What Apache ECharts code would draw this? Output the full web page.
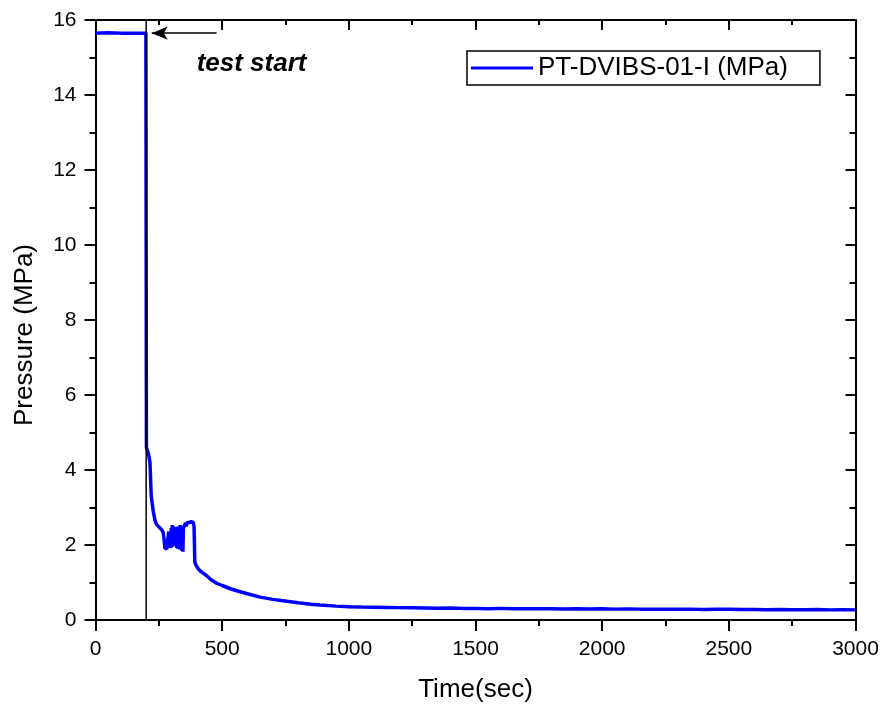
<!DOCTYPE html>
<html>
<head>
<meta charset="utf-8">
<script src="https://cdn.jsdelivr.net/npm/echarts@6/dist/echarts.min.js"></script>
<style>html,body{margin:0;padding:0;background:#fff;}#c{width:882px;height:708px;}</style>
</head>
<body>
<div id="c"></div>
<script>
// ---- data ----
const seriesName = 'PT-DVIBS-01-I (MPa)';
const timeSec = [
  0, 50, 100, 150, 199, 200, 201, 203, 206, 210, 215, 220, 228, 235, 241, 248, 255, 261, 266, 270,
  274, 278, 282, 285, 287, 289, 291, 293, 295, 297, 299, 301, 303, 305, 307, 309, 311, 313, 315, 317,
  319, 321, 323, 325, 327, 329, 331, 333, 335, 337, 339, 341, 343, 345, 347, 349, 352, 355, 358, 362,
  366, 370, 374, 378, 382, 386, 389, 392, 396, 400, 406, 415, 425, 439, 455, 478,
  500, 530, 557, 600, 650, 700, 755, 800, 850, 886, 950,
  1000, 1050, 1100, 1150, 1200, 1250, 1300, 1350, 1400, 1450, 1500, 1550, 1600, 1650, 1700, 1750,
  1800, 1850, 1900, 1950, 2000, 2050, 2100, 2150, 2200, 2250, 2300, 2350, 2400, 2450, 2500, 2550,
  2600, 2650, 2700, 2750, 2800, 2850, 2900, 2950, 3000
];
const pressureMPa = [
  15.65, 15.66, 15.65, 15.65, 15.65, 10.0, 4.6, 4.55, 4.5, 4.4, 4.2, 3.3, 2.9, 2.65, 2.55, 2.5, 2.45, 2.4, 2.36, 2.2,
  1.92, 1.88, 1.9, 1.86, 1.9, 2.36, 1.95, 2.3, 2.1, 1.92, 2.45, 2.0, 2.53, 1.95, 2.5, 2.0, 2.45, 1.98, 2.42, 2.05,
  2.48, 1.92, 2.35, 1.9, 2.5, 1.95, 2.4, 1.88, 2.53, 2.05, 2.45, 1.85, 2.5, 1.82, 2.45, 2.5, 2.45, 2.58, 2.5, 2.6,
  2.55, 2.6, 2.55, 2.62, 2.58, 2.6, 2.5, 1.55, 1.47, 1.42, 1.36, 1.3, 1.25, 1.18, 1.08, 0.98,
  0.92, 0.84, 0.78, 0.70, 0.61, 0.55, 0.50, 0.46, 0.42, 0.40, 0.37,
  0.355, 0.345, 0.34, 0.335, 0.33, 0.325, 0.32, 0.315, 0.32, 0.31, 0.31, 0.30, 0.31, 0.30, 0.30, 0.30,
  0.30, 0.295, 0.30, 0.295, 0.30, 0.29, 0.295, 0.29, 0.29, 0.29, 0.285, 0.29, 0.28, 0.285, 0.285, 0.28,
  0.28, 0.275, 0.28, 0.275, 0.275, 0.28, 0.27, 0.275, 0.27
];
const xTicks = { min: 0, max: 3000, interval: 500 };
const yTicks = { min: 0, max: 16, interval: 2 };
const testStartTime = 200;
const arrowFrom = [478, 15.65];
const arrowTo = [222, 15.65];
const annotationText = 'test start';
const annotationAt = [616, 14.83];
const xTitle = 'Time(sec)';
const yTitle = 'Pressure (MPa)';

const mainData = timeSec.map((t, i) => [t, pressureMPa[i]]);
const FONT = 'Arial, "Liberation Sans", sans-serif';

const chart = echarts.init(document.getElementById('c'), null, { renderer: 'canvas' });

function axisCommon(extra) {
  return Object.assign({
    type: 'value',
    splitLine: { show: false },
    axisLine: { show: true, onZero: false, lineStyle: { color: '#000', width: 2 } },
    axisTick: { show: true, length: 11, lineStyle: { color: '#000', width: 2 } },
    minorTick: { show: true, splitNumber: 2, length: 6, lineStyle: { color: '#000', width: 2 } },
    minorSplitLine: { show: false }
  }, extra);
}

const option = {
  animation: false,
  backgroundColor: '#fff',
  textStyle: { fontFamily: FONT },
  grid: { left: 95.5, right: 26.5, top: 20, bottom: 86, containLabel: false },
  legend: {
    data: [{ name: seriesName, icon: 'rect' }],
    left: 467, top: 51,
    orient: 'horizontal',
    itemWidth: 62, itemHeight: 3, itemGap: 5,
    padding: [4, 32, 4, 4],
    borderColor: '#000', borderWidth: 1.5,
    textStyle: { fontSize: 26, color: '#000', fontFamily: FONT },
    selectedMode: false
  },
  xAxis: [
    axisCommon(Object.assign({}, xTicks, {
      position: 'bottom',
      name: xTitle, nameLocation: 'middle', nameGap: 57,
      nameTextStyle: { fontSize: 26, color: '#000', fontFamily: FONT },
      axisLabel: { fontSize: 21, color: '#000', margin: 19, fontFamily: FONT, formatter: v => String(v) }
    })),
    axisCommon(Object.assign({}, xTicks, {
      position: 'top',
      axisTick: { show: true, inside: true, length: 10, lineStyle: { color: '#000', width: 2 } },
      minorTick: { show: true, splitNumber: 2, length: 5, lineStyle: { color: '#000', width: 2 } },
      axisLabel: { show: false }
    }))
  ],
  yAxis: [
    axisCommon(Object.assign({}, yTicks, {
      position: 'left',
      name: yTitle, nameLocation: 'middle', nameGap: 58,
      nameTextStyle: { fontSize: 26, color: '#000', fontFamily: FONT, padding: [0, 30, 0, 0] },
      axisLabel: { fontSize: 21, color: '#000', margin: 19, fontFamily: FONT, formatter: v => String(v) }
    })),
    axisCommon(Object.assign({}, yTicks, {
      position: 'right',
      axisTick: { show: true, inside: true, length: 10, lineStyle: { color: '#000', width: 2 } },
      minorTick: { show: true, splitNumber: 2, length: 6, lineStyle: { color: '#000', width: 2 } },
      axisLabel: { show: false }
    }))
  ],
  series: [
    {
      name: 'test start marker',
      type: 'line',
      xAxisIndex: 0, yAxisIndex: 0,
      data: [[testStartTime, yTicks.min], [testStartTime, yTicks.max]],
      symbol: 'none',
      silent: true,
      lineStyle: { color: '#000', width: 1.5 },
      emphasis: { disabled: true },
      z: 3,
      markLine: {
        silent: true,
        symbol: ['none', 'arrow'],
        symbolSize: [10, 16],
        label: { show: false },
        lineStyle: { color: '#000', width: 1.5, type: 'solid' },
        data: [[{ coord: arrowFrom }, { coord: arrowTo }]]
      },
      markPoint: {
        silent: true,
        symbol: 'circle', symbolSize: 0,
        label: {
          show: true, position: 'inside', formatter: annotationText,
          fontSize: 26, fontWeight: 'bold', fontStyle: 'italic', color: '#000', fontFamily: FONT
        },
        data: [{ coord: annotationAt }]
      }
    },
    {
      name: seriesName,
      type: 'line',
      xAxisIndex: 0, yAxisIndex: 0,
      data: mainData,
      symbol: 'none',
      color: '#0000ff',
      lineStyle: { color: '#0000ff', width: 3.5 },
      emphasis: { disabled: true },
      z: 2
    }
  ]
};
chart.setOption(option);
</script>
</body>
</html>
